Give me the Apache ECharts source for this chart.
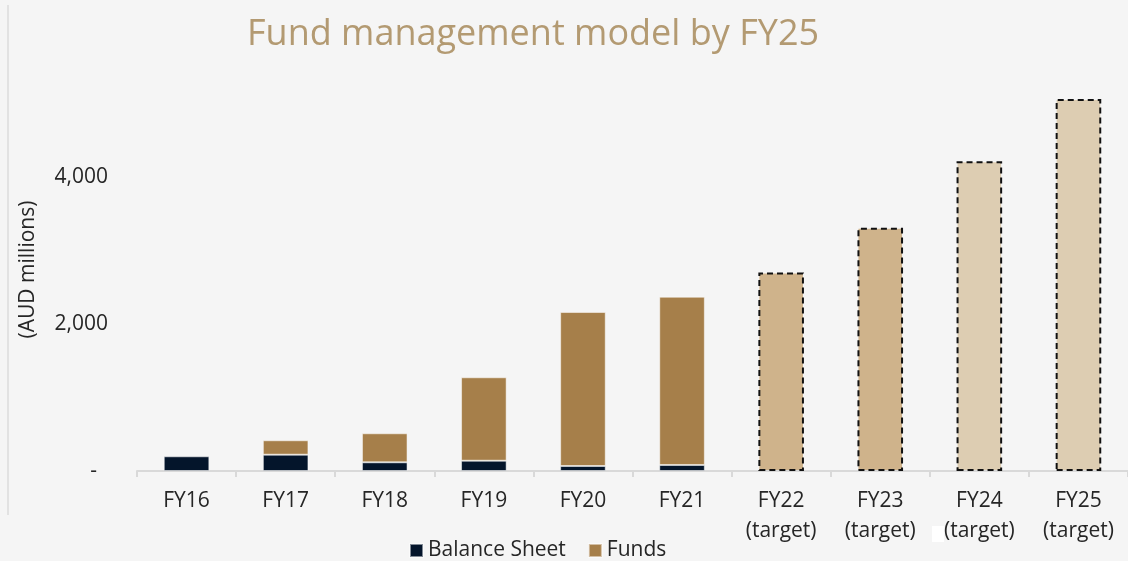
<!DOCTYPE html>
<html>
<head>
<meta charset="utf-8">
<script src="https://cdn.jsdelivr.net/npm/echarts@6/dist/echarts.min.js"></script>
<style>
  html, body { margin: 0; padding: 0; background: #f5f5f5; }
  #chart { width: 1128px; height: 561px; }
</style>
</head>
<body>
<div id="chart"></div>
<script>
// data
const categories = ['FY16', 'FY17', 'FY18', 'FY19', 'FY20', 'FY21',
  'FY22\n(target)', 'FY23\n(target)', 'FY24\n(target)', 'FY25\n(target)'];
const balanceSheet = [200, 222, 118, 140, 68, 82, null, null, null, null];
const funds = [null, 196, 395, 1135, 2095, 2289, null, null, null, null];
const targets = [null, null, null, null, null, null, 2700, 3310, 4215, 5060];
const yTicks = [0, 2000, 4000];

const chart = echarts.init(document.getElementById('chart'));
const font = '"Open Sans", "Noto Sans", sans-serif';

const option = {
  backgroundColor: '#f5f5f5',
  textStyle: { fontFamily: font },
  title: {
    text: 'Fund management model by FY25',
    left: 242,
    top: 12,
    textStyle: { fontFamily: font, fontSize: 36, fontWeight: 'normal', color: '#b39a72' }
  },
  legend: [
    {
      data: ['Balance Sheet', 'Funds'],
      left: 404,
      top: 535,
      icon: 'rect',
      itemWidth: 13,
      itemHeight: 13,
      itemGap: 22,
      textStyle: { fontFamily: font, fontSize: 21, color: '#262626' }
    },
    {
      data: [{ name: 'Target', itemStyle: { color: '#ffffff', borderWidth: 0 } }],
      left: 927,
      top: 521,
      icon: 'rect',
      itemWidth: 12,
      itemHeight: 16,
      formatter: () => '',
      selectedMode: false
    }
  ],
  graphic: [{
    type: 'line',
    shape: { x1: 8, y1: 5, x2: 8, y2: 515 },
    style: { stroke: '#cfcfcf', lineWidth: 1 }
  }],
  grid: { left: 137, top: 30, width: 1004, height: 441 },
  xAxis: {
    type: 'category',
    data: categories,
    axisLine: { lineStyle: { color: '#d9d9d9', width: 2 } },
    axisTick: { show: true, length: 6, lineStyle: { color: '#d9d9d9', width: 2 } },
    axisLabel: { fontFamily: font, fontSize: 21, color: '#262626', lineHeight: 30, margin: 15 }
  },
  yAxis: {
    type: 'value',
    min: 0,
    max: 6000,
    interval: 2000,
    name: '(AUD millions)',
    nameLocation: 'middle',
    nameGap: 98,
    nameTextStyle: { fontFamily: font, fontSize: 21, color: '#262626', padding: [0, 38, 0, 0] },
    axisLine: { show: false },
    axisTick: { show: false },
    splitLine: { show: false },
    axisLabel: {
      fontFamily: font,
      fontSize: 21,
      color: '#262626',
      margin: 29,
      formatter: v => {
        if (!yTicks.includes(v)) return '';
        return v === 0 ? '-  ' : v.toLocaleString('en-US');
      }
    }
  },
  series: [
    {
      name: 'Balance Sheet',
      type: 'bar',
      stack: 'total',
      barWidth: '46%',
      data: balanceSheet,
      itemStyle: { color: '#04152b', borderColor: 'rgba(255,255,255,0.5)', borderWidth: 1 }
    },
    {
      name: 'Funds',
      type: 'bar',
      stack: 'total',
      data: funds,
      itemStyle: { color: '#a67f4a', borderColor: 'rgba(255,255,255,0.5)', borderWidth: 1 }
    },
    {
      name: 'Target',
      type: 'bar',
      stack: 'total',
      data: targets,
      itemStyle: {
        color: p => (p.dataIndex >= 8 ? '#ddcdb2' : '#cfb38b'),
        borderColor: '#111',
        borderWidth: 2,
        borderType: [6, 4]
      }
    }
  ]
};

chart.setOption(option);
</script>
</body>
</html>
